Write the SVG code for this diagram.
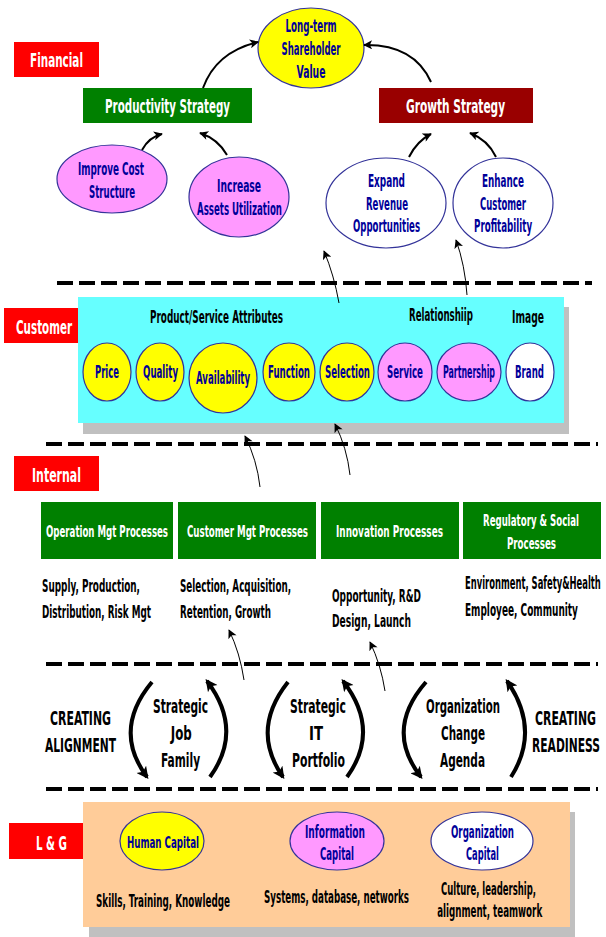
<svg xmlns="http://www.w3.org/2000/svg" width="606" height="937" viewBox="0 0 606 937">
<style>
text{font-family:"Liberation Sans Narrow","DejaVu Sans Condensed","Liberation Sans",sans-serif;font-weight:bold;text-anchor:middle;transform-box:fill-box;transform-origin:50% 50%;transform:scaleX(0.7)}
.lab{fill:#fff;font-size:20px}
.strat{fill:#fff;font-size:19px}
.nv{fill:#000099;font-size:17px}
.bk{fill:#000;font-size:17px}
.pw{fill:#fff;font-size:16px}
.cr{fill:#000;font-size:19px}
.ds{fill:#000;font-size:17px;text-anchor:start;transform-origin:0% 50%}
.red{fill:#ff0000}
.el{stroke:#333399;stroke-width:1.2}
.yel{fill:#ffff00}
.vio{fill:#ff99ff}
.wht{fill:#ffffff}
.grn{fill:#008000}
.dash{stroke:#000;stroke-width:4;stroke-dasharray:16 6;fill:none}
.ar{fill:none;stroke:#000;stroke-width:2;marker-end:url(#ah)}
.thin{fill:none;stroke:#000;stroke-width:1;marker-end:url(#ah)}
.arc{fill:none;stroke:#000;stroke-width:4;marker-end:url(#ahb)}
</style>
<defs>
<marker id="ah" viewBox="0 0 10 10" refX="9" refY="5" markerWidth="10" markerHeight="9" markerUnits="userSpaceOnUse" orient="auto"><path d="M0,0 L10,5 L0,10 L2.5,5 z" fill="#000"/></marker>
<marker id="ahb" viewBox="0 0 10 10" refX="8" refY="5" markerWidth="13" markerHeight="12" markerUnits="userSpaceOnUse" orient="auto"><path d="M0,0 L10,5 L0,10 L2.5,5 z" fill="#000"/></marker>
</defs>

<!-- separators -->
<g id="separators">
<line class="dash" x1="57" y1="283" x2="592" y2="283"/>
<line class="dash" x1="46" y1="444" x2="598" y2="444"/>
<line class="dash" x1="46" y1="664" x2="598" y2="664"/>
<line class="dash" x1="46" y1="789" x2="598" y2="789"/>
</g>

<!-- section labels -->
<g id="label-financial"><rect class="red" x="14" y="42" width="85" height="35"/><text class="lab" x="56.5" y="67" textLength="75.7" lengthAdjust="spacingAndGlyphs">Financial</text></g>
<g id="label-customer"><rect class="red" x="4" y="308" width="85" height="35"/><text class="lab" x="44" y="334" textLength="80" lengthAdjust="spacingAndGlyphs">Customer</text></g>
<g id="label-internal"><rect class="red" x="14" y="456" width="85" height="35"/><text class="lab" x="56.5" y="482" textLength="70" lengthAdjust="spacingAndGlyphs">Internal</text></g>
<g id="label-lg"><rect class="red" x="9" y="823" width="85" height="36"/><text class="lab" x="51.5" y="850" textLength="44.3" lengthAdjust="spacingAndGlyphs">L &amp; G</text></g>

<!-- Financial -->
<g id="long-term">
<ellipse class="el yel" cx="311" cy="48" rx="53" ry="40"/>
<text class="nv" x="311" y="32" textLength="72.9" lengthAdjust="spacingAndGlyphs">Long-term</text>
<text class="nv" x="311" y="55" textLength="84.3" lengthAdjust="spacingAndGlyphs">Shareholder</text>
<text class="nv" x="311" y="78" textLength="41.4" lengthAdjust="spacingAndGlyphs">Value</text>
</g>
<g id="productivity"><rect class="grn" x="83" y="88" width="169" height="35"/><text class="strat" x="167.5" y="113" textLength="178.6" lengthAdjust="spacingAndGlyphs">Productivity Strategy</text></g>
<g id="growth"><rect fill="#990000" x="379" y="88" width="154" height="35"/><text class="strat" x="455.5" y="113" textLength="141.4" lengthAdjust="spacingAndGlyphs">Growth Strategy</text></g>
<g id="improve-cost">
<ellipse class="el vio" cx="112" cy="179" rx="55" ry="34"/>
<text class="nv" x="111" y="175" textLength="94.3" lengthAdjust="spacingAndGlyphs">Improve Cost</text>
<text class="nv" x="112" y="198" textLength="65.7" lengthAdjust="spacingAndGlyphs">Structure</text>
</g>
<g id="increase-assets">
<ellipse class="el vio" cx="239" cy="197" rx="50" ry="40"/>
<text class="nv" x="239" y="192" textLength="62.9" lengthAdjust="spacingAndGlyphs">Increase</text>
<text class="nv" x="239.5" y="215" textLength="121.4" lengthAdjust="spacingAndGlyphs">Assets Utilization</text>
</g>
<g id="expand-revenue">
<ellipse class="el wht" cx="386" cy="203" rx="60" ry="45"/>
<text class="nv" x="386.5" y="187" textLength="52.9" lengthAdjust="spacingAndGlyphs">Expand</text>
<text class="nv" x="387" y="210" textLength="60" lengthAdjust="spacingAndGlyphs">Revenue</text>
<text class="nv" x="386.5" y="232" textLength="95.7" lengthAdjust="spacingAndGlyphs">Opportunities</text>
</g>
<g id="enhance-customer">
<ellipse class="el wht" cx="503" cy="203" rx="50" ry="45"/>
<text class="nv" x="503" y="187" textLength="60" lengthAdjust="spacingAndGlyphs">Enhance</text>
<text class="nv" x="503" y="210" textLength="65.7" lengthAdjust="spacingAndGlyphs">Customer</text>
<text class="nv" x="503" y="232" textLength="82.9" lengthAdjust="spacingAndGlyphs">Profitability</text>
</g>

<!-- Customer band -->
<g id="customer-band">
<rect fill="#c0c0c0" x="83" y="307" width="486" height="127"/>
<rect fill="#66ffff" x="78" y="297" width="486" height="126"/>
<text class="bk" x="216.5" y="323" textLength="190" lengthAdjust="spacingAndGlyphs">Product/Service Attributes</text>
<text class="bk" x="441" y="321" textLength="91.4" lengthAdjust="spacingAndGlyphs">Relationshiip</text>
<text class="bk" x="528" y="323" textLength="45.7" lengthAdjust="spacingAndGlyphs">Image</text>
</g>
<g id="price"><ellipse class="el yel" cx="107" cy="372" rx="24" ry="29"/><text class="nv" x="107" y="378" textLength="34.3" lengthAdjust="spacingAndGlyphs">Price</text></g>
<g id="quality"><ellipse class="el yel" cx="160" cy="372" rx="24" ry="29"/><text class="nv" x="160.5" y="378" textLength="50" lengthAdjust="spacingAndGlyphs">Quality</text></g>
<g id="availability"><ellipse class="el yel" cx="223" cy="378" rx="34" ry="35"/><text class="nv" x="223" y="384" textLength="77.1" lengthAdjust="spacingAndGlyphs">Availability</text></g>
<g id="function"><ellipse class="el yel" cx="289" cy="372" rx="26" ry="29"/><text class="nv" x="289" y="378" textLength="60" lengthAdjust="spacingAndGlyphs">Function</text></g>
<g id="selection"><ellipse class="el yel" cx="347" cy="372" rx="27" ry="29"/><text class="nv" x="347.5" y="378" textLength="64.3" lengthAdjust="spacingAndGlyphs">Selection</text></g>
<g id="service"><ellipse class="el vio" cx="405" cy="372" rx="27" ry="29"/><text class="nv" x="405" y="378" textLength="51.4" lengthAdjust="spacingAndGlyphs">Service</text></g>
<g id="partnership"><ellipse class="el vio" cx="469" cy="372" rx="32" ry="29"/><text class="nv" x="469" y="378" textLength="74.3" lengthAdjust="spacingAndGlyphs">Partnership</text></g>
<g id="brand"><ellipse class="el wht" cx="530" cy="372" rx="24" ry="29"/><text class="nv" x="529.5" y="378" textLength="41.4" lengthAdjust="spacingAndGlyphs">Brand</text></g>

<!-- Internal -->
<g id="operation-mgt"><rect class="grn" x="41" y="502" width="132" height="57"/><text class="pw" x="107" y="537" textLength="174.3" lengthAdjust="spacingAndGlyphs">Operation Mgt Processes</text>
<text class="ds" x="42" y="592" textLength="140" lengthAdjust="spacingAndGlyphs">Supply, Production,</text>
<text class="ds" x="42" y="618" textLength="155.7" lengthAdjust="spacingAndGlyphs">Distribution, Risk Mgt</text></g>
<g id="customer-mgt"><rect class="grn" x="178" y="502" width="138" height="57"/><text class="pw" x="247.5" y="537" textLength="172.9" lengthAdjust="spacingAndGlyphs">Customer Mgt Processes</text>
<text class="ds" x="180" y="592" textLength="158.6" lengthAdjust="spacingAndGlyphs">Selection, Acquisition,</text>
<text class="ds" x="180" y="618" textLength="130" lengthAdjust="spacingAndGlyphs">Retention, Growth</text></g>
<g id="innovation"><rect class="grn" x="321" y="502" width="138" height="57"/><text class="pw" x="389.5" y="537" textLength="152.9" lengthAdjust="spacingAndGlyphs">Innovation Processes</text>
<text class="ds" x="332" y="602" textLength="127.1" lengthAdjust="spacingAndGlyphs">Opportunity, R&amp;D</text>
<text class="ds" x="332" y="627" textLength="112.9" lengthAdjust="spacingAndGlyphs">Design, Launch</text></g>
<g id="regulatory"><rect class="grn" x="463" y="502" width="138" height="57"/><text class="pw" x="531" y="526" textLength="137.1" lengthAdjust="spacingAndGlyphs">Regulatory &amp; Social</text><text class="pw" x="531.5" y="549" textLength="70" lengthAdjust="spacingAndGlyphs">Processes</text>
<text class="ds" x="465" y="589" textLength="194" lengthAdjust="spacingAndGlyphs">Environment, Safety&amp;Health</text>
<text class="ds" x="465" y="616" textLength="161.4" lengthAdjust="spacingAndGlyphs">Employee, Community</text></g>

<!-- Creating row -->
<g id="creating-alignment"><text class="cr" x="80.5" y="725" textLength="87.1" lengthAdjust="spacingAndGlyphs">CREATING</text><text class="cr" x="80.5" y="752" textLength="101.4" lengthAdjust="spacingAndGlyphs">ALIGNMENT</text></g>
<g id="job-family"><text class="cr" x="180.5" y="713" textLength="78.6" lengthAdjust="spacingAndGlyphs">Strategic</text><text class="cr" x="181.5" y="740" textLength="30" lengthAdjust="spacingAndGlyphs">Job</text><text class="cr" x="180.5" y="767" textLength="55.7" lengthAdjust="spacingAndGlyphs">Family</text></g>
<g id="it-portfolio"><text class="cr" x="318" y="713" textLength="80" lengthAdjust="spacingAndGlyphs">Strategic</text><text class="cr" x="316" y="740" textLength="20" lengthAdjust="spacingAndGlyphs">IT</text><text class="cr" x="318.5" y="767" textLength="75.7" lengthAdjust="spacingAndGlyphs">Portfolio</text></g>
<g id="org-change"><text class="cr" x="463" y="713" textLength="105.7" lengthAdjust="spacingAndGlyphs">Organization</text><text class="cr" x="463" y="740" textLength="62.9" lengthAdjust="spacingAndGlyphs">Change</text><text class="cr" x="462.5" y="767" textLength="64.3" lengthAdjust="spacingAndGlyphs">Agenda</text></g>
<g id="creating-readiness"><text class="cr" x="565.5" y="725" textLength="87.1" lengthAdjust="spacingAndGlyphs">CREATING</text><text class="cr" x="566" y="752" textLength="97.1" lengthAdjust="spacingAndGlyphs">READINESS</text></g>

<!-- L&G -->
<g id="lg-band">
<rect fill="#c0c0c0" x="89" y="812" width="486" height="130"/>
<rect fill="#ffcc99" x="83" y="802" width="487" height="125"/>
</g>
<g id="human-capital"><ellipse class="el yel" cx="162" cy="841" rx="42" ry="29"/><text class="nv" x="163" y="848" style="font-size:16px" textLength="102.9" lengthAdjust="spacingAndGlyphs">Human Capital</text>
<text class="bk" x="163" y="907" textLength="191.4" lengthAdjust="spacingAndGlyphs">Skills, Training, Knowledge</text></g>
<g id="information-capital"><ellipse class="el vio" cx="337" cy="841" rx="47" ry="29"/><text class="nv" x="335" y="838" textLength="85.7" lengthAdjust="spacingAndGlyphs">Information</text><text class="nv" x="337" y="860" textLength="48.6" lengthAdjust="spacingAndGlyphs">Capital</text>
<text class="bk" x="336.5" y="903" textLength="207.1" lengthAdjust="spacingAndGlyphs">Systems, database, networks</text></g>
<g id="organization-capital"><ellipse class="el wht" cx="482" cy="841" rx="51" ry="29"/><text class="nv" x="482.5" y="838" textLength="90" lengthAdjust="spacingAndGlyphs">Organization</text><text class="nv" x="482.5" y="860" textLength="47.1" lengthAdjust="spacingAndGlyphs">Capital</text>
<text class="bk" x="488.5" y="895" textLength="135.7" lengthAdjust="spacingAndGlyphs">Culture, leadership,</text>
<text class="bk" x="489.5" y="917" textLength="150" lengthAdjust="spacingAndGlyphs">alignment, teamwork</text></g>

<!-- connectors -->
<g id="connectors">
<path class="ar" d="M203,88 Q216,52 258,42"/>
<path class="ar" d="M431,82 Q414,44 364,45"/>
<path class="ar" d="M142,150 Q149,137 162,134"/>
<path class="ar" d="M227,155 Q218,139 200,133"/>
<path class="ar" d="M409,157 Q417,141 431,134"/>
<path class="ar" d="M496,157 Q488,140 470,133"/>
<path class="thin" d="M339,303 Q334,275 324,251"/>
<path class="thin" d="M467,295 Q465,265 456,240"/>
<path class="thin" d="M260,487 Q257,460 245,436"/>
<path class="thin" d="M350,475 Q347,448 335,424"/>
<path class="thin" d="M244,680 Q240,653 229,630"/>
<path class="thin" d="M385,691 Q381,665 370,642"/>
<path class="arc" d="M152,682 Q112,730 147,777"/>
<path class="arc" d="M210,777 Q244,730 207,681"/>
<path class="arc" d="M288,682 Q250,730 283,777"/>
<path class="arc" d="M347,777 Q381,730 343,681"/>
<path class="arc" d="M426,682 Q384,730 421,777"/>
<path class="arc" d="M511,777 Q541,730 507,681"/>
</g>
</svg>
